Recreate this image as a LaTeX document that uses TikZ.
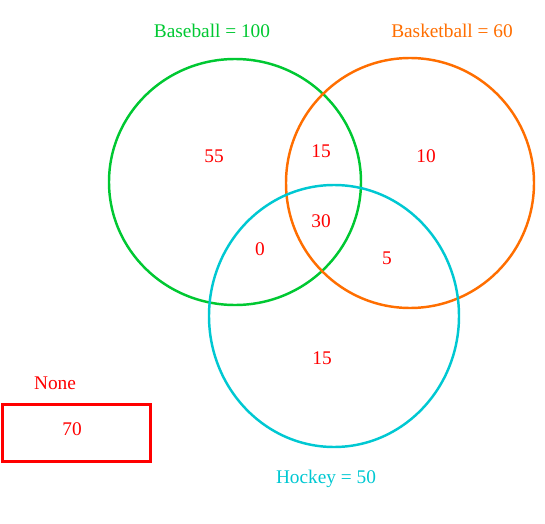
\documentclass[tikz,border=0pt]{standalone}
\usepackage{fontspec}
\setmainfont{Liberation Serif}
\usepackage{xcolor}
\usetikzlibrary{positioning}
\definecolor{basegreen}{RGB}{0,200,50}
\definecolor{basketorange}{RGB}{255,110,0}
\definecolor{hockeycyan}{RGB}{0,200,210}
\definecolor{countred}{RGB}{255,0,0}

\begin{document}
\begin{tikzpicture}[x=0.02cm,y=-0.02cm,
  ring/.style={line width=1.4pt},
  count/.style={font=\fontsize{11}{13}\selectfont,color=countred},
  title/.style={font=\fontsize{11}{13}\selectfont}]
  \useasboundingbox (0,0) rectangle (545,524);
  % the three sets
  \draw[ring,basegreen]    (235,182) ellipse [x radius=126,y radius=123];
  \draw[ring,basketorange] (410,183) ellipse [x radius=124,y radius=125];
  \draw[ring,hockeycyan]   (334,316) ellipse [x radius=125,y radius=131];
  \node[title,color=basegreen]    (baseball) at (212,31)  {Baseball = 100};
  \node[title,color=basketorange] (basket)   at (452,31)  {Basketball = 60};
  \node[title,color=hockeycyan]   (hockey)   at (326,479) {Hockey = 50};
  % region counts
  \node[count] (onlybase)   at (214,156) {55};
  \node[count] (basebasket) at (321,151) {15};
  \node[count] (onlybasket) at (426,156) {10};
  \node[count] (allthree)   at (321,221) {30};
  \node[count] (basehockey) at (260,249) {0};
  \node[count] (baskhockey) at (387,258) {5};
  \node[count] (onlyhockey) at (322,358) {15};
  % outside all sets
  \draw[countred,line width=1.8pt] (2.5,404.5) rectangle (150.5,461.5);
  \node[count] (nonelabel) at (55,383) {None};
  \node[count] (nonecount) at (72,429) {70};
\end{tikzpicture}
\end{document}
